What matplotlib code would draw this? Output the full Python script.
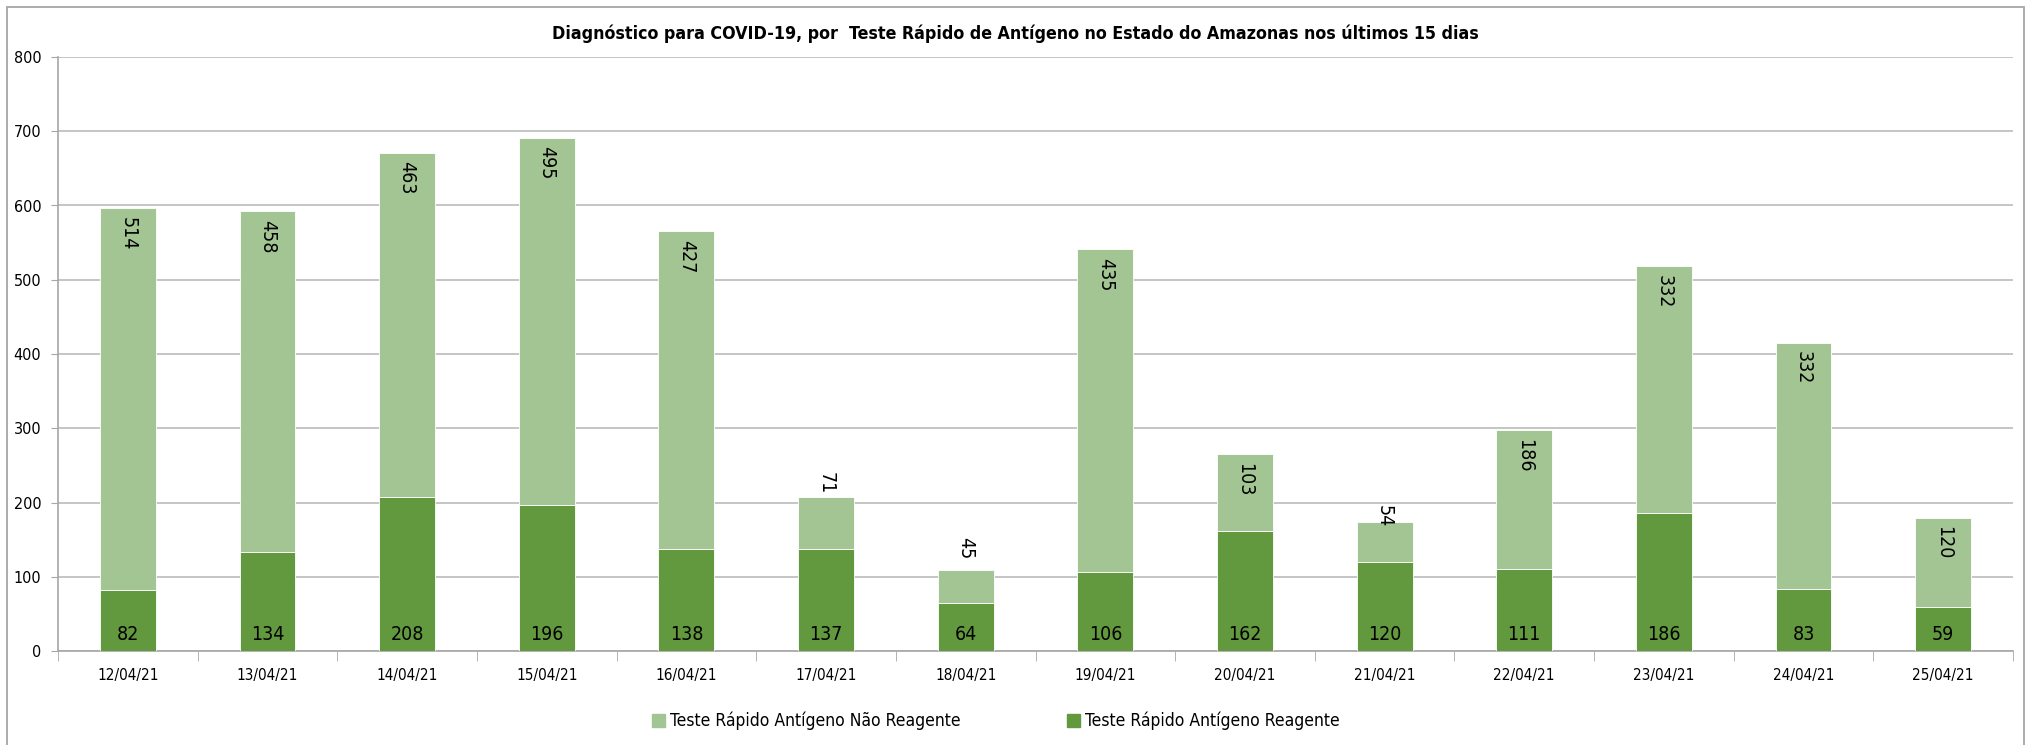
import numpy as np
import matplotlib.pyplot as plt
from matplotlib.patches import Rectangle, Patch

# dados
dias = ["12/04/21", "13/04/21", "14/04/21", "15/04/21", "16/04/21", "17/04/21", "18/04/21",
        "19/04/21", "20/04/21", "21/04/21", "22/04/21", "23/04/21", "24/04/21", "25/04/21"]
reagente = [82, 134, 208, 196, 138, 137, 64, 106, 162, 120, 111, 186, 83, 59]
nao_reagente = [514, 458, 463, 495, 427, 71, 45, 435, 103, 54, 186, 332, 332, 120]

titulo = "Diagnóstico para COVID-19, por  Teste Rápido de Antígeno no Estado do Amazonas nos últimos 15 dias"
nome_nr = "Teste Rápido Antígeno Não Reagente"
nome_r = "Teste Rápido Antígeno Reagente"

COR_CLARA = "#a3c593"
COR_ESCURA = "#62983e"
CINZA = "#a6a6a6"

plt.rcParams['font.family'] = ["DejaVu Sans"]
plt.rcParams['font.stretch'] = "condensed"

fig = plt.figure(figsize=(20.3, 7.45), dpi=100)
W, H = 2030, 745
ax = fig.add_axes([58 / W, 1 - 651 / H, (2013 - 58) / W, (651 - 57) / H])

x = np.arange(len(dias))
largura = 0.4
ax.bar(x, reagente, largura, color=COR_ESCURA, edgecolor="white", linewidth=0.6, zorder=3)
ax.bar(x, nao_reagente, largura, bottom=reagente, color=COR_CLARA, edgecolor="white",
       linewidth=0.6, zorder=3)

# rotulos das barras (os segmentos pequenos ficam com o rotulo por cima)
for i in range(len(dias)):
    ax.annotate(str(reagente[i]), (x[i], 0), xytext=(0, 5), textcoords="offset points",
                ha="center", va="bottom", fontsize=14, zorder=4)
    topo = reagente[i] + nao_reagente[i]
    if nao_reagente[i] < 50:
        dy, va = 8, "bottom"
    elif nao_reagente[i] < 60:
        dy, va = -4, "bottom"
    elif nao_reagente[i] < 80:
        dy, va = 2, "bottom"
    else:
        dy, va = -6, "top"
    ax.annotate(str(nao_reagente[i]), (x[i], topo), xytext=(0, dy), textcoords="offset points",
                ha="center", va=va, rotation=-90, fontsize=14, zorder=4)

ax.set_xlim(-0.5, len(dias) - 0.5)
ax.set_ylim(0, 800)
ax.set_yticks(np.arange(0, 801, 100))
ax.yaxis.grid(True, color="#c0c0c0", linewidth=1.3, zorder=0)
ax.set_xticks(x)
ax.set_xticklabels(dias, fontsize=11)
ax.set_xticks(np.arange(-0.5, len(dias), 1), minor=True)
ax.tick_params(axis="x", which="major", length=0, pad=12)
ax.tick_params(axis="x", which="minor", length=7, color=CINZA)
ax.tick_params(axis="y", length=5, color=CINZA, labelsize=11.5, pad=7)
for lado in ["top", "right"]:
    ax.spines[lado].set_visible(False)
ax.spines["left"].set_color(CINZA)
ax.spines["bottom"].set_color(CINZA)
ax.spines["left"].set_linewidth(1.2)
ax.spines["bottom"].set_linewidth(1.2)

fig.text(0.5, 1 - 34 / H, titulo, ha="center", va="center", fontsize=12.8, fontweight="bold")

alcas = [Patch(color=COR_CLARA, label=nome_nr), Patch(color=COR_ESCURA, label=nome_r)]
fig.legend(handles=alcas, loc="center left", bbox_to_anchor=(652 / W, 1 - 721 / H), ncol=2,
           frameon=False, fontsize=12.5, handlelength=0.75, handleheight=0.75,
           columnspacing=6.1, handletextpad=0.3, borderaxespad=0, borderpad=0)

# moldura externa (sem borda inferior visivel)
fig.patches.append(Rectangle((7 / W, -10 / H), (2024 - 7) / W, (738 + 10) / H,
                             transform=fig.transFigure, fill=False, edgecolor=CINZA,
                             linewidth=1.3))

fig.savefig("out.png", dpi=100)
